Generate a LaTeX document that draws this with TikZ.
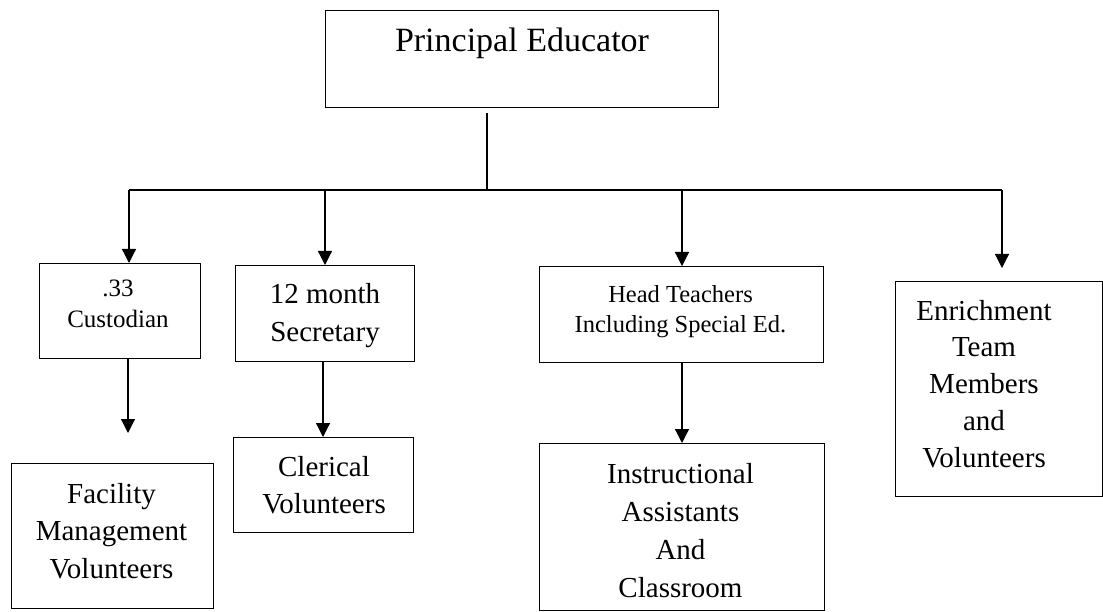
\documentclass[tikz,border=0pt]{standalone}
\usepackage{fontspec}
\setmainfont{Liberation Serif}
\usetikzlibrary{arrows.meta}
\tikzset{
  box/.style={draw, line width=1.2pt, rectangle, inner sep=0pt, anchor=north west},
  lbl/.style={anchor=base, inner sep=0pt},
  conn/.style={line width=1.2pt},
  arr/.style={line width=1.2pt, -{Triangle[width=14pt,length=14pt]}},
}
\newcommand{\txt}[3]{\fontsize{#1}{#2}\selectfont\setlength{\tabcolsep}{0pt}\begin{tabular}[t]{c}#3\end{tabular}}
\begin{document}
\begin{tikzpicture}[x=1pt,y=-1pt]
\useasboundingbox (0,0) rectangle (1103,612);
\begin{scope}
\clip (0,0) rectangle (1103,612);
% boxes
\node[box, minimum width=393pt, minimum height=97pt] (prin) at (325,10) {};
\node[box, minimum width=161pt, minimum height=95pt] (cust) at (39,263) {};
\node[box, minimum width=179pt, minimum height=96pt] (sec) at (235,265) {};
\node[box, minimum width=284pt, minimum height=96pt] (head) at (539,266) {};
\node[box, minimum width=206.5pt, minimum height=215pt] (enr) at (895,281) {};
\node[box, minimum width=202pt, minimum height=145pt] (fac) at (11,463) {};
\node[box, minimum width=180pt, minimum height=95pt] (cler) at (233,437) {};
\node[box, minimum width=285pt, minimum height=167pt] (inst) at (539,443) {};
\end{scope}
% texts
\node[lbl] (tprin) at (522,52) {\txt{34}{40}{Principal Educator}};
\node[lbl] (tcust) at (118,297) {\txt{25}{31}{.33\\Custodian}};
\node[lbl] (tsec) at (325,304) {\txt{29}{38}{12 month\\Secretary}};
\node[lbl] (thead) at (680.5,302) {\txt{24.5}{31}{Head Teachers\\Including Special Ed.}};
\node[lbl] (tenr) at (984,320) {\txt{29}{36.8}{Enrichment\\Team\\Members\\and\\Volunteers}};
\node[lbl] (tfac) at (111.5,503) {\txt{29}{37.5}{Facility\\Management\\Volunteers}};
\node[lbl] (tcler) at (324,476) {\txt{29}{37}{Clerical\\Volunteers}};
\node[lbl] (tinst) at (680.5,483) {\txt{29}{38}{Instructional\\Assistants\\And\\Classroom}};
% connectors
\coordinate (ptop) at (487,113);
\coordinate (pbus) at (487,190);
\coordinate (b1) at (129,190);
\coordinate (b2) at (325,190);
\coordinate (b3) at (682,190);
\coordinate (b4) at (1002,190);
\coordinate (e4) at (1002,268);
\coordinate (f1) at (128,433);
\draw[conn] (ptop) -- (pbus);
\draw[conn] (b1) -- (b4);
\draw[arr] (b1) -- (b1 |- cust.north);
\draw[arr] (b2) -- (b2 |- sec.north);
\draw[arr] (b3) -- (b3 |- head.north);
\draw[arr] (b4) -- (e4);
\draw[arr] (f1 |- cust.south) -- (f1);
\draw[arr] (cler.north -| 323,0) ++(0,-76) -- (cler.north -| 323,0);
\draw[arr] (head.south -| b3) -- (b3 |- inst.north);
\end{tikzpicture}
\end{document}
